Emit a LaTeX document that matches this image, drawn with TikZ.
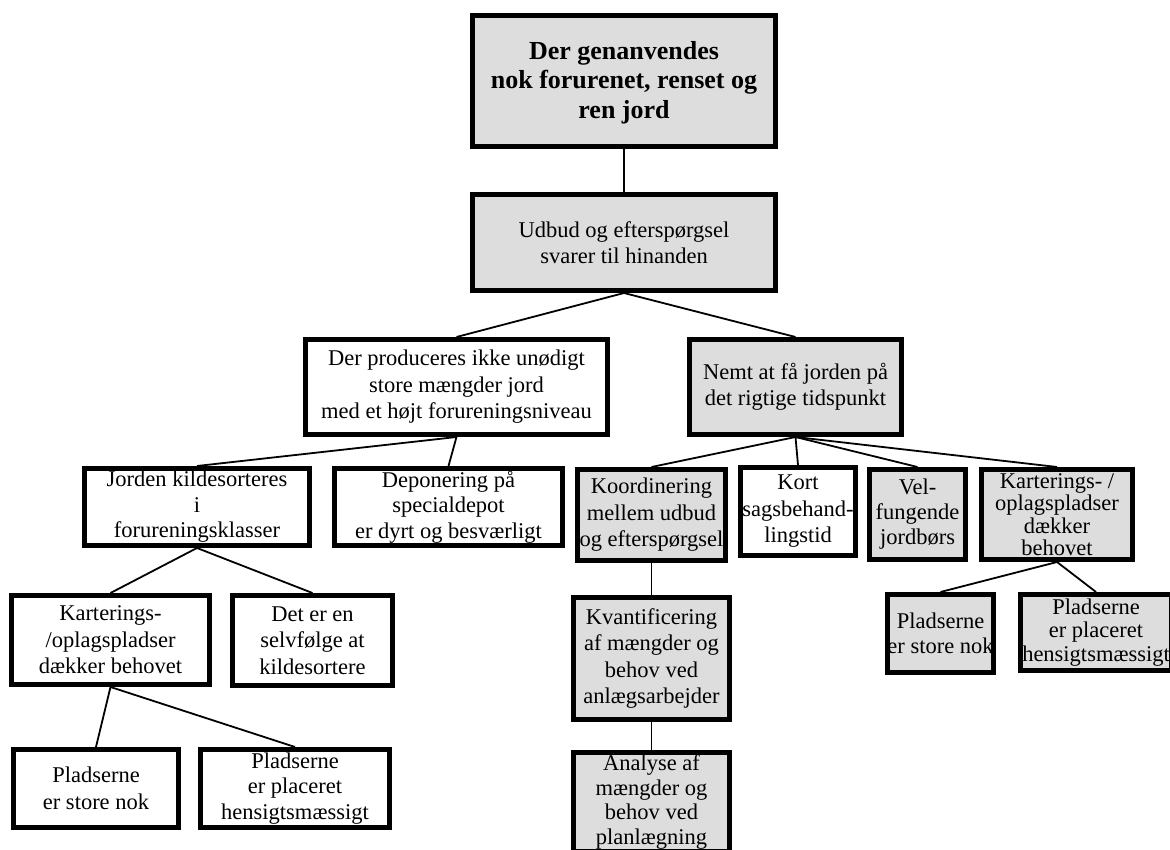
\documentclass[tikz,border=0pt]{standalone}
\usepackage{fontspec}
\setmainfont{Liberation Serif}
\definecolor{boxgray}{RGB}{221,221,221}
\tikzset{
  box/.style={draw=black, line width=5pt, inner sep=0pt, align=center,
    font=\fontsize{22.5}{26.5}\selectfont},
  graybox/.style={box, fill=boxgray},
  whitebox/.style={box, fill=white},
  link/.style={line width=1.8pt},
}
\begin{document}
\begin{tikzpicture}[x=1pt, y=-1pt]
  \useasboundingbox (0,0) rectangle (1170,850);
  \clip (0,0) rectangle (1170,850);

  % goal
  \node[graybox, minimum width=303pt, minimum height=131pt,
        font=\bfseries\fontsize{26}{29.5}\selectfont] (goal) at (624,81)
        {\strut Der genanvendes\\nok forurenet, renset og\\ren jord};
  \node[graybox, minimum width=303pt, minimum height=96pt] (udbud) at (624,242.5)
        {Udbud og efterspørgsel\\svarer til hinanden};

  % second level
  \node[whitebox, minimum width=302pt, minimum height=95pt] (prod) at (456.5,387)
        {Der produceres ikke unødigt\\store mængder jord\\med et højt forureningsniveau};
  \node[graybox, minimum width=212pt, minimum height=95pt] (nemt) at (795.5,387)
        {Nemt at få jorden på\\det rigtige tidspunkt};

  % left branch
  \node[whitebox, minimum width=225pt, minimum height=77pt,
        font=\fontsize{22.5}{25.5}\selectfont] (jorden) at (197,507)
        {Jorden kildesorteres\\i\\forureningsklasser};
  \node[whitebox, minimum width=228pt, minimum height=77pt,
        font=\fontsize{22.5}{25.5}\selectfont] (depon) at (448.5,507)
        {Deponering på\\specialdepot\\er dyrt og besværligt};
  \node[whitebox, minimum width=198pt, minimum height=89pt] (kartL) at (110.5,640)
        {Karterings-\\/oplagspladser\\dækker behovet};
  \node[whitebox, minimum width=160pt, minimum height=90pt] (deter) at (312.5,640.5)
        {Det er en\\selvfølge at\\kildesortere};
  \node[whitebox, minimum width=165pt, minimum height=78pt] (pladsAL) at (96,788.5)
        {Pladserne\\er store nok};
  \node[whitebox, minimum width=189pt, minimum height=78pt,
        font=\fontsize{22.5}{25.5}\selectfont] (pladsBL) at (295,788.5)
        {Pladserne\\er placeret\\hensigtsmæssigt};

  % right branch
  \node[graybox, minimum width=148pt, minimum height=91pt] (koord) at (651.5,515)
        {Koordinering\\mellem udbud\\og efterspørgsel};
  \node[whitebox, minimum width=115pt, minimum height=88pt] (kort) at (798,511.5)
        {Kort\\sagsbehand-\\lingstid};
  \node[graybox, minimum width=96pt, minimum height=90pt,
        font=\fontsize{22.5}{25}\selectfont] (vel) at (917.5,514.5)
        {Vel-\\fungende\\jordbørs};
  \node[graybox, minimum width=151pt, minimum height=90pt,
        font=\fontsize{22.5}{22.5}\selectfont] (kartR) at (1057,514.5)
        {Karterings- /\\oplagspladser\\dækker\\behovet};
  \node[graybox, minimum width=156pt, minimum height=122pt] (kvant) at (651.5,658.5)
        {Kvantificering\\af mængder og\\behov ved\\anlægsarbejder};
  \node[graybox, minimum width=156pt, minimum height=99pt,
        font=\fontsize{22.5}{24.5}\selectfont] (analyse) at (651.5,802)
        {Analyse af\\mængder og\\behov ved\\planlægning};
  \node[graybox, minimum width=98pt, minimum height=78pt,
        font=\fontsize{22.5}{25}\selectfont] (pladsAR) at (940.5,633.5)
        {Pladserne\\er store nok};
  \node[graybox, minimum width=151pt, minimum height=76pt,
        font=\fontsize{22.5}{23.5}\selectfont] (pladsBR) at (1096,632.5)
        {Pladserne\\er placeret\\hensigtsmæssigt};

  % connectors
  \draw[link] (goal.south) -- (udbud.north);
  \draw[link] (udbud.south) -- (prod.north);
  \draw[link] (udbud.south) -- (nemt.north);
  \draw[link] (prod.south) -- (jorden.north);
  \draw[link] (prod.south) -- (depon.north);
  \draw[link] (jorden.south) -- (kartL.north);
  \draw[link] (jorden.south) -- (deter.north);
  \draw[link] (kartL.south) -- (pladsAL.north);
  \draw[link] (kartL.south) -- (pladsBL.north);
  \draw[link] (nemt.south) -- (koord.north);
  \draw[link] (nemt.south) -- (kort.north);
  \draw[link] (nemt.south) -- (vel.north);
  \draw[link] (nemt.south) -- (kartR.north);
  \draw[link] (koord.south) -- (kvant.north);
  \draw[link] (kvant.south) -- (analyse.north);
  \draw[link] (kartR.south) -- (pladsAR.north);
  \draw[link] (kartR.south) -- (pladsBR.north);
\end{tikzpicture}
\end{document}
